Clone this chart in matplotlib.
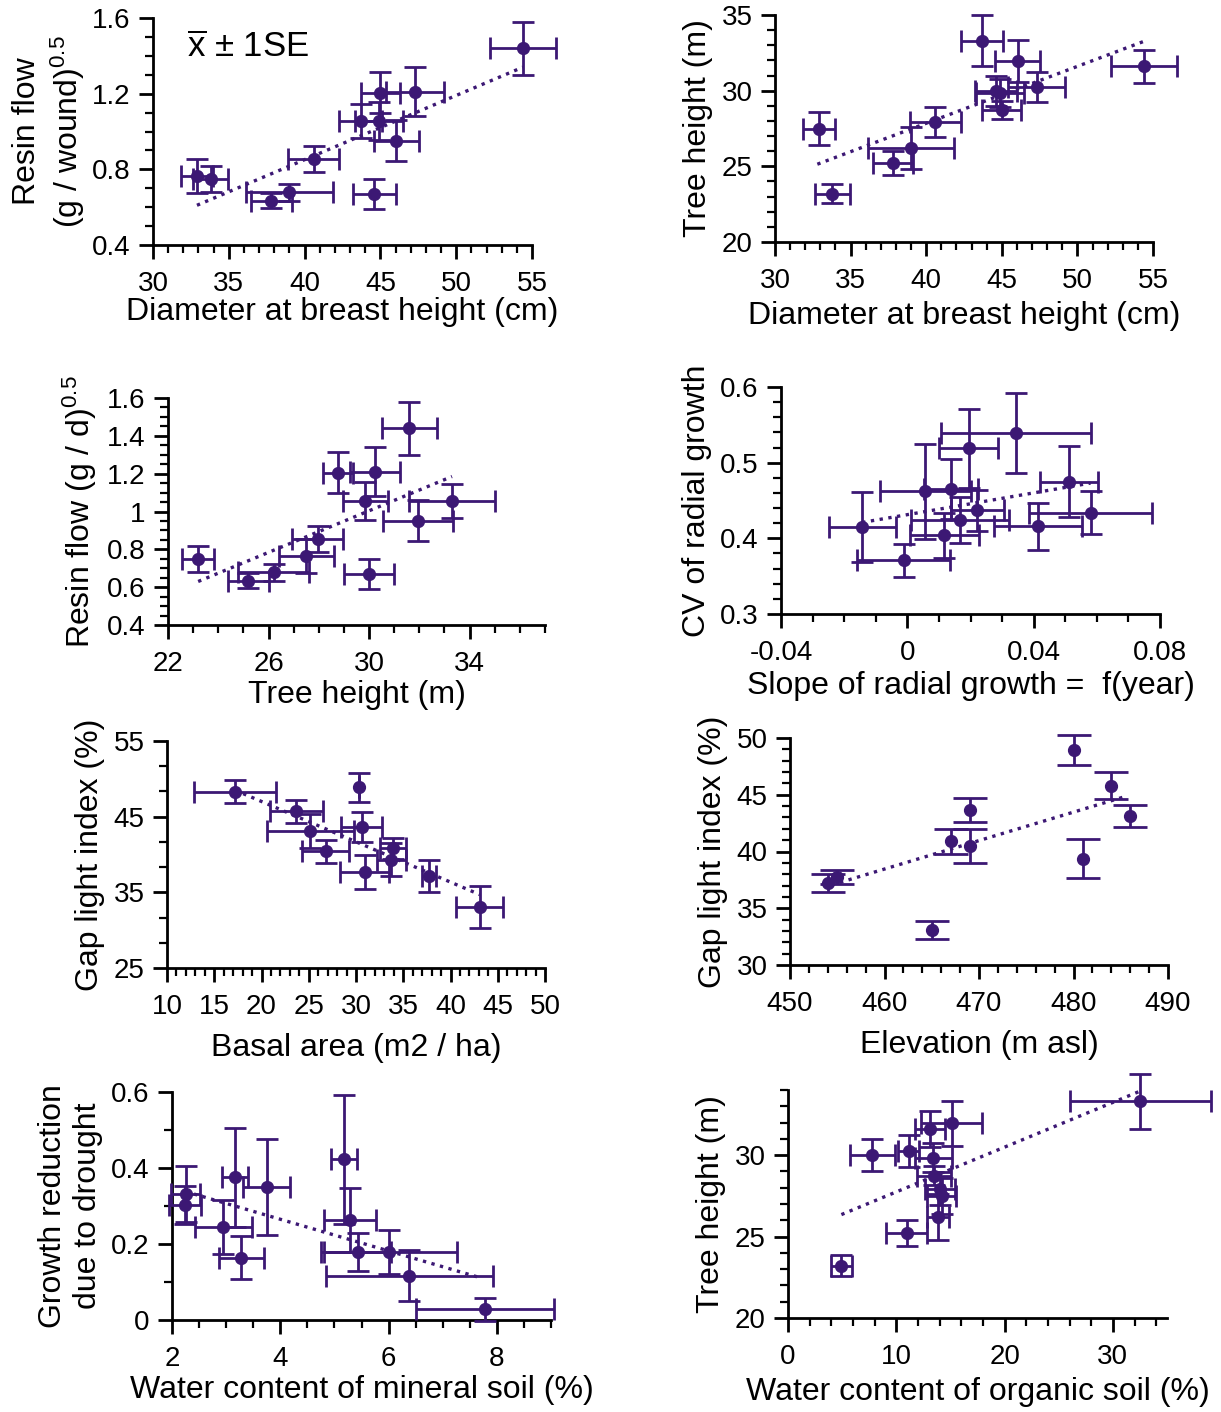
import matplotlib
matplotlib.use("Agg")
import matplotlib.pyplot as plt
from matplotlib.ticker import MultipleLocator, FixedLocator

plt.rcParams['font.family'] = ['Liberation Sans', 'DejaVu Sans']
plt.rcParams['mathtext.fontset'] = 'custom'
plt.rcParams['mathtext.rm'] = 'Liberation Sans'
plt.rcParams['mathtext.it'] = 'Liberation Sans:italic'

COL = '#3c1874'
TICK_FS = 20
LAB_FS = 23

# --- tree data (same 12 trees in several panels) ---
dbh = [32.9, 33.8, 37.8, 39.0, 40.6, 43.7, 44.6, 44.9, 45.0, 46.05, 47.3, 54.4]
dbh_se = [1.05, 1.15, 1.35, 2.85, 1.7, 1.4, 1.4, 1.6, 1.3, 1.5, 1.9, 2.2]
height = [27.5, 23.2, 25.2, 26.2, 27.95, 33.3, 30.0, 29.85, 28.75, 31.95, 30.25, 31.6]
height_se = [1.1, 0.65, 0.8, 1.4, 1.0, 1.7, 1.0, 0.9, 0.6, 1.4, 1.0, 1.1]
resin = [0.763, 0.75, 0.633, 0.68, 0.854, 1.057, 0.67, 1.057, 1.206, 0.952, 1.21, 1.44]
resin_se = [0.09, 0.07, 0.04, 0.045, 0.07, 0.09, 0.08, 0.1, 0.11, 0.107, 0.13, 0.14]
org = [14.2, 4.93, 10.97, 13.85, 14.03, 32.55, 7.8, 13.42, 13.5, 15.1, 11.15, 13.13]
org_se = [1.35, 0.95, 1.9, 1.0, 1.35, 6.5, 2.07, 1.7, 1.55, 2.8, 0.95, 1.37]

# --- radial growth ---
slope = [-0.0143, -0.0011, 0.0057, 0.0117, 0.0139, 0.0167, 0.0194, 0.0222, 0.0345, 0.0413, 0.0512, 0.058]
slope_se = [0.0106, 0.0147, 0.0145, 0.011, 0.0085, 0.0155, 0.0093, 0.0085, 0.0237, 0.014, 0.0093, 0.0195]
cv = [0.415, 0.371, 0.462, 0.404, 0.465, 0.424, 0.519, 0.437, 0.539, 0.416, 0.475, 0.434]
cv_se = [0.046, 0.022, 0.063, 0.03, 0.04, 0.03, 0.052, 0.027, 0.053, 0.031, 0.047, 0.028]

# --- gap light vs basal area ---
basal = [17.2, 23.7, 25.15, 26.8, 30.3, 30.6, 30.9, 33.9, 33.75, 37.7, 43.1]
basal_se = [4.3, 2.8, 4.6, 2.5, 0.0, 2.2, 2.6, 1.4, 1.5, 0.75, 2.5]
gli_e = [48.3, 45.7, 43.1, 40.4, 48.9, 43.6, 37.7, 40.8, 39.3, 37.2, 33.1]
gli_e_se = [1.5, 1.5, 2.2, 1.5, 1.9, 2.0, 2.3, 1.4, 2.2, 2.1, 2.8]

# --- gap light vs elevation ---
elev = [454, 455, 465, 467, 469, 469, 480, 481, 484, 486]
gli_f = [37.22, 37.78, 33.08, 40.9, 43.66, 40.48, 48.97, 39.37, 45.8, 43.13]
gli_f_se = [0.8, 0.63, 0.8, 1.1, 1.07, 1.47, 1.32, 1.7, 1.2, 0.97]

# --- growth reduction vs mineral soil water ---
mineral = [2.25, 2.24, 2.95, 3.17, 3.28, 3.75, 5.17, 5.29, 5.43, 6.01, 6.38, 7.78]
mineral_se = [0.27, 0.3, 0.53, 0.24, 0.42, 0.43, 0.24, 0.48, 0.62, 1.25, 1.54, 1.28]
reduction = [0.331, 0.302, 0.245, 0.376, 0.164, 0.35, 0.423, 0.263, 0.179, 0.179, 0.116, 0.028]
reduction_se = [0.073, 0.05, 0.07, 0.13, 0.056, 0.127, 0.17, 0.085, 0.049, 0.058, 0.067, 0.03]

# trend lines (end points)
trend_a = ([32.9, 54.4], [0.61, 1.34])
trend_b = ([32.8, 54.4], [25.14, 33.26])
trend_c = ([23.2, 33.3], [0.63, 1.185])
trend_d = ([-0.0143, 0.058], [0.421, 0.473])
trend_e = ([17.2, 43.1], [48.5, 34.7])
trend_f = ([454.4, 485.7], [37.05, 44.9])
trend_g = ([2.25, 7.7], [0.338, 0.111])
trend_h = ([4.93, 32.55], [26.35, 33.94])

W, H = 1221, 1412
fig = plt.figure(figsize=(W / 100, H / 100), dpi=100)


def make_ax(x0, x1, y_top, y_bot):
    return fig.add_axes([x0 / W, 1 - y_bot / H, (x1 - x0) / W, (y_bot - y_top) / H])


def panel(ax, x, y, xerr, yerr, trend, xlim, ylim, xmaj, xmin, ymaj, ymin, cap=8):
    ax.errorbar(x, y, xerr=xerr, yerr=yerr, fmt='o', color=COL, ms=8.5,
                elinewidth=2, capsize=cap, capthick=2, clip_on=False, zorder=3)
    ax.plot(trend[0], trend[1], ':', color=COL, lw=2.4, zorder=2)
    ax.set_xlim(*xlim)
    ax.set_ylim(*ylim)
    ax.xaxis.set_major_locator(FixedLocator(xmaj))
    ax.xaxis.set_minor_locator(MultipleLocator(xmin))
    ax.yaxis.set_major_locator(FixedLocator(ymaj))
    ax.yaxis.set_minor_locator(MultipleLocator(ymin))
    for s in ['top', 'right']:
        ax.spines[s].set_visible(False)
    for s in ['left', 'bottom']:
        ax.spines[s].set_linewidth(2)
    ax.tick_params(which='major', length=10, width=2, labelsize=TICK_FS)
    ax.tick_params(axis='x', which='major', pad=9)
    ax.tick_params(axis='y', which='major', pad=6)
    ax.tick_params(which='minor', length=6, width=1.6)


# A
ax = make_ax(153, 532, 18, 245)
panel(ax, dbh, resin, dbh_se, resin_se, trend_a, (30, 55), (0.4, 1.6),
      [30, 35, 40, 45, 50, 55], 1, [0.4, 0.8, 1.2, 1.6], 0.1)
ax.set_yticklabels(['0.4', '0.8', '1.2', '1.6'])
ax.set_xlabel('Diameter at breast height (cm)', fontsize=LAB_FS, labelpad=0)
ax.set_ylabel('Resin flow\n(g / wound)$^{0.5}$', fontsize=LAB_FS, labelpad=4)
ax.text(0.09, 0.87, r'$\overline{\mathrm{x}}$ $\pm$ 1SE', transform=ax.transAxes,
        fontsize=25, va='center')

# B
ax = make_ax(775, 1153, 15, 242)
panel(ax, dbh, height, dbh_se, height_se, trend_b, (30, 55), (20, 35),
      [30, 35, 40, 45, 50, 55], 1, [20, 25, 30, 35], 1)
ax.set_xlabel('Diameter at breast height (cm)', fontsize=LAB_FS, labelpad=5)
ax.set_ylabel('Tree height (m)', fontsize=LAB_FS, labelpad=6)

# C
ax = make_ax(168, 545, 398, 625)
panel(ax, height, resin, height_se, resin_se, trend_c, (22, 37), (0.4, 1.6),
      [22, 26, 30, 34], 1, [0.4, 0.6, 0.8, 1.0, 1.2, 1.4, 1.6], 0.05)
ax.set_yticklabels(['0.4', '0.6', '0.8', '1', '1.2', '1.4', '1.6'])
ax.set_xlabel('Tree height (m)', fontsize=LAB_FS, labelpad=2)
ax.set_ylabel('Resin flow (g / d)$^{0.5}$', fontsize=LAB_FS, labelpad=6)

# D
ax = make_ax(781, 1160, 387, 614)
panel(ax, slope, cv, slope_se, cv_se, trend_d, (-0.04, 0.08), (0.3, 0.6),
      [-0.04, 0, 0.04, 0.08], 0.01, [0.3, 0.4, 0.5, 0.6], 0.02)
ax.set_xticklabels(['-0.04', '0', '0.04', '0.08'])
ax.set_yticklabels(['0.3', '0.4', '0.5', '0.6'])
ax.set_xlabel('Slope of radial growth =  f(year)', fontsize=LAB_FS, labelpad=3)
ax.set_ylabel('CV of radial growth', fontsize=LAB_FS, labelpad=6)

# E
ax = make_ax(167, 545, 741, 968)
panel(ax, basal, gli_e, basal_se, gli_e_se, trend_e, (10, 50), (25, 55),
      list(range(10, 51, 5)), 1, [25, 35, 45, 55], 10 / 3)
ax.yaxis.set_minor_locator(FixedLocator([25 + i * 10 / 3 for i in range(10)]))
ax.set_xlabel('Basal area (m2 / ha)', fontsize=LAB_FS, labelpad=9)
ax.set_ylabel('Gap light index (%)', fontsize=LAB_FS, labelpad=6)

# F
ax = make_ax(790, 1168, 738, 965)
ax.errorbar(elev, gli_f, yerr=gli_f_se, fmt='o', color=COL, ms=8.5,
            elinewidth=2, capsize=12, capthick=2, clip_on=False, zorder=3)
panel(ax, [], [], None, None, trend_f, (450, 490), (30, 50),
      [450, 460, 470, 480, 490], 2, [30, 35, 40, 45, 50], 1)
ax.set_xlabel('Elevation (m asl)', fontsize=LAB_FS, labelpad=9)
ax.set_ylabel('Gap light index (%)', fontsize=LAB_FS, labelpad=6)

# G
ax = make_ax(172, 551, 1092, 1320)
panel(ax, mineral, reduction, mineral_se, reduction_se, trend_g, (2, 9), (0, 0.6),
      [2, 4, 6, 8], 0.5, [0, 0.2, 0.4, 0.6], 0.1)
ax.set_yticklabels(['0', '0.2', '0.4', '0.6'])
ax.set_xlabel('Water content of mineral soil (%)', fontsize=LAB_FS, labelpad=2)
ax.set_ylabel('Growth reduction\ndue to drought', fontsize=LAB_FS, labelpad=6)

# H
ax = make_ax(788, 1167, 1090, 1318)
panel(ax, org, height, org_se, height_se, trend_h, (0, 35), (20, 34),
      [0, 10, 20, 30], 2, [20, 25, 30], 1)
ax.set_xlabel('Water content of organic soil (%)', fontsize=LAB_FS, labelpad=5)
ax.set_ylabel('Tree height (m)', fontsize=LAB_FS, labelpad=6)

plt.savefig('out.png', dpi=100)
